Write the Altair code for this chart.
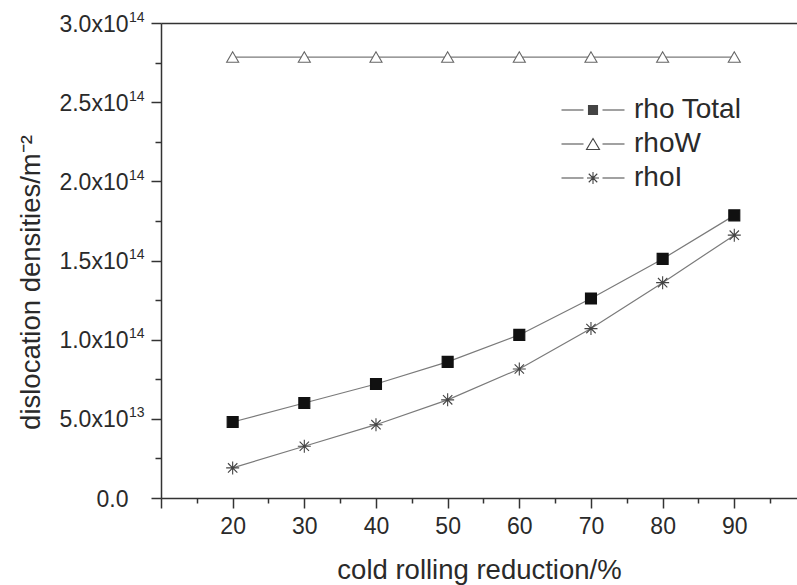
import altair as alt
import pandas as pd

# ---------------- data ----------------
reduction = [20, 30, 40, 50, 60, 70, 80, 90]
rho_total = [4.8e13, 6.0e13, 7.2e13, 8.6e13, 1.03e14, 1.26e14, 1.51e14, 1.785e14]
rho_w = [2.785e14, 2.785e14, 2.785e14, 2.785e14, 2.785e14, 2.785e14, 2.785e14, 2.785e14]
rho_i = [1.9e13, 3.27e13, 4.63e13, 6.2e13, 8.15e13, 1.07e14, 1.36e14, 1.66e14]
series_names = ["rho Total", "rhoW", "rhoI"]

x_major = [10, 20, 30, 40, 50, 60, 70, 80, 90]
x_major_labels = ["", "20", "30", "40", "50", "60", "70", "80", "90"]
x_minor = [15, 25, 35, 45, 55, 65, 75, 85, 95]
y_major = [0, 5e13, 1e14, 1.5e14, 2e14, 2.5e14, 3e14]
y_major_labels = ["0.0", "5.0x10", "1.0x10", "1.5x10", "2.0x10", "2.5x10", "3.0x10"]
y_major_exponents = ["", "13", "14", "14", "14", "14", "14"]
y_minor = [2.5e13, 7.5e13, 1.25e14, 1.75e14, 2.25e14, 2.75e14]

x_title = "cold rolling reduction/%"
y_title = "dislocation densities/m⁻²"

rows = []
for name, vals in zip(series_names, [rho_total, rho_w, rho_i]):
    for r, v in zip(reduction, vals):
        rows.append({"reduction": r, "value": v, "series": name})
df = pd.DataFrame(rows)

# ---------------- styles ----------------
FONT = "Liberation Sans"
AX = "#333333"
TXT = "#2a2a2a"
LINE = "#7a7a7a"

asterisk = "M0,-1V1M-1,0H1M-0.72,-0.72L0.72,0.72M-0.72,0.72L0.72,-0.72"
marker_shapes = ["square", "triangle-up", asterisk]
marker_sizes = [121, 169, 169]
marker_fill = ["#111111", "#ffffff", "#ffffff"]
marker_stroke = ["#111111", "#666666", "#444444"]

# legend glyphs: short line, marker, short line (stroke-only paths; the
# solid square is hatched densely so that it reads as filled)
leg_line = "M-6.3,0H-1.9M1.9,0H6.3"
solid_square = "".join(f"M-0.9,{y / 10:.1f}H0.9" for y in range(-8, 9, 2)) + "M-0.9,-0.9H0.9V0.9H-0.9Z"
legend_shapes = [
    leg_line + solid_square,
    leg_line + "M0,-1.1L1.3,1.1L-1.3,1.1Z",
    leg_line + "M0,-1.2V1.2M-1.2,0H1.2M-0.85,-0.85L0.85,0.85M-0.85,0.85L0.85,-0.85",
]

xdom = [10, 98.75]
ydom = [0, 3e14]

def map_expr(vals, labels, scale):
    parts = []
    for v, l in zip(vals, labels):
        parts.append(f"round(datum.value/{scale})=={round(v/scale)} ? '{l}' : ")
    return "".join(parts) + "''"

x_major_axis = alt.Axis(
    orient="bottom", values=x_major, labelExpr=map_expr(x_major, x_major_labels, 1),
    tickSize=10, tickWidth=1.5, tickColor=AX, domain=True, domainColor=AX, domainWidth=1.5,
    labelFont=FONT, labelFontSize=23, labelColor=TXT, labelPadding=7, grid=False,
    title=x_title, titleFont=FONT, titleFontSize=27.5, titleFontWeight="normal",
    titleColor=TXT, titlePadding=18,
)
y_major_axis = alt.Axis(
    orient="left", values=y_major, labelExpr=map_expr(y_major, y_major_labels, 1e12),
    tickSize=10, tickWidth=1.5, tickColor=AX, domain=True, domainColor=AX, domainWidth=1.5,
    labelFont=FONT, labelFontSize=23, labelColor=TXT, labelPadding=23, labelOffset=1,
    grid=False,
    title=y_title, titleFont=FONT, titleFontSize=27.5, titleFontWeight="normal",
    titleColor=TXT, titlePadding=13, titleY=259,
)
y_exp_axis = alt.Axis(
    orient="left", values=y_major, labelExpr=map_expr(y_major, y_major_exponents, 1e12),
    tickSize=10, tickOpacity=0, domain=False, labelFont=FONT, labelFontSize=14,
    labelColor=TXT, labelPadding=7, labelOffset=-6, grid=False, title=None,
)
x_minor_axis = alt.Axis(orient="bottom", values=x_minor, tickSize=5, tickWidth=1.5,
                        tickColor=AX, labels=False, domain=False, grid=False, title=None)
y_minor_axis = alt.Axis(orient="left", values=y_minor, tickSize=6, tickWidth=1.5,
                        tickColor=AX, labels=False, domain=False, grid=False, title=None)
top_axis = alt.Axis(orient="top", labels=False, ticks=False, domain=True, domainColor=AX,
                    domainWidth=1.5, grid=False, title=None)

xs = alt.Scale(domain=xdom, nice=False, zero=False)
ys = alt.Scale(domain=ydom, nice=False, zero=False)

base = alt.Chart(df)

lines = base.mark_line(color=LINE, strokeWidth=1.2).encode(
    x=alt.X("reduction:Q", scale=xs, axis=x_major_axis),
    y=alt.Y("value:Q", scale=ys, axis=y_major_axis),
    detail="series:N",
)

points = base.mark_point(opacity=1, strokeWidth=1.1).encode(
    x=alt.X("reduction:Q", scale=xs, axis=x_minor_axis),
    y=alt.Y("value:Q", scale=ys, axis=y_minor_axis),
    shape=alt.Shape("series:N", scale=alt.Scale(domain=series_names, range=marker_shapes), legend=None),
    size=alt.Size("series:N", scale=alt.Scale(domain=series_names, range=marker_sizes), legend=None),
    fill=alt.Fill("series:N", scale=alt.Scale(domain=series_names, range=marker_fill), legend=None),
    stroke=alt.Stroke("series:N", scale=alt.Scale(domain=series_names, range=marker_stroke), legend=None),
)

legend_layer = base.transform_filter("false").mark_point(opacity=1).encode(
    x=alt.X("reduction:Q", scale=xs, axis=top_axis),
    y=alt.Y("value:Q", scale=ys, axis=y_exp_axis),
    shape=alt.Shape(
        "series:N",
        scale=alt.Scale(domain=series_names, range=legend_shapes),
        legend=alt.Legend(
            title=None, orient="none", legendX=418, legendY=73, padding=0,
            symbolSize=100, symbolStrokeColor="#444444",
            symbolStrokeWidth=1.1, symbolOpacity=1, labelFont=FONT, labelFontSize=28,
            labelColor=TXT, labelOffset=27, rowPadding=6,
        ),
    ),
)

chart = alt.layer(lines, points, legend_layer).resolve_scale(
    shape="independent"
).resolve_axis(
    x="independent", y="independent"
).properties(
    width=636, height=475,
    autosize=alt.AutoSizeParams(type="none"),
    padding={"left": 161, "top": 23, "right": 0, "bottom": 87},
    background="white",
).configure_view(strokeWidth=0)

chart.save("out.html", embed_options={"renderer": "svg", "actions": False})
